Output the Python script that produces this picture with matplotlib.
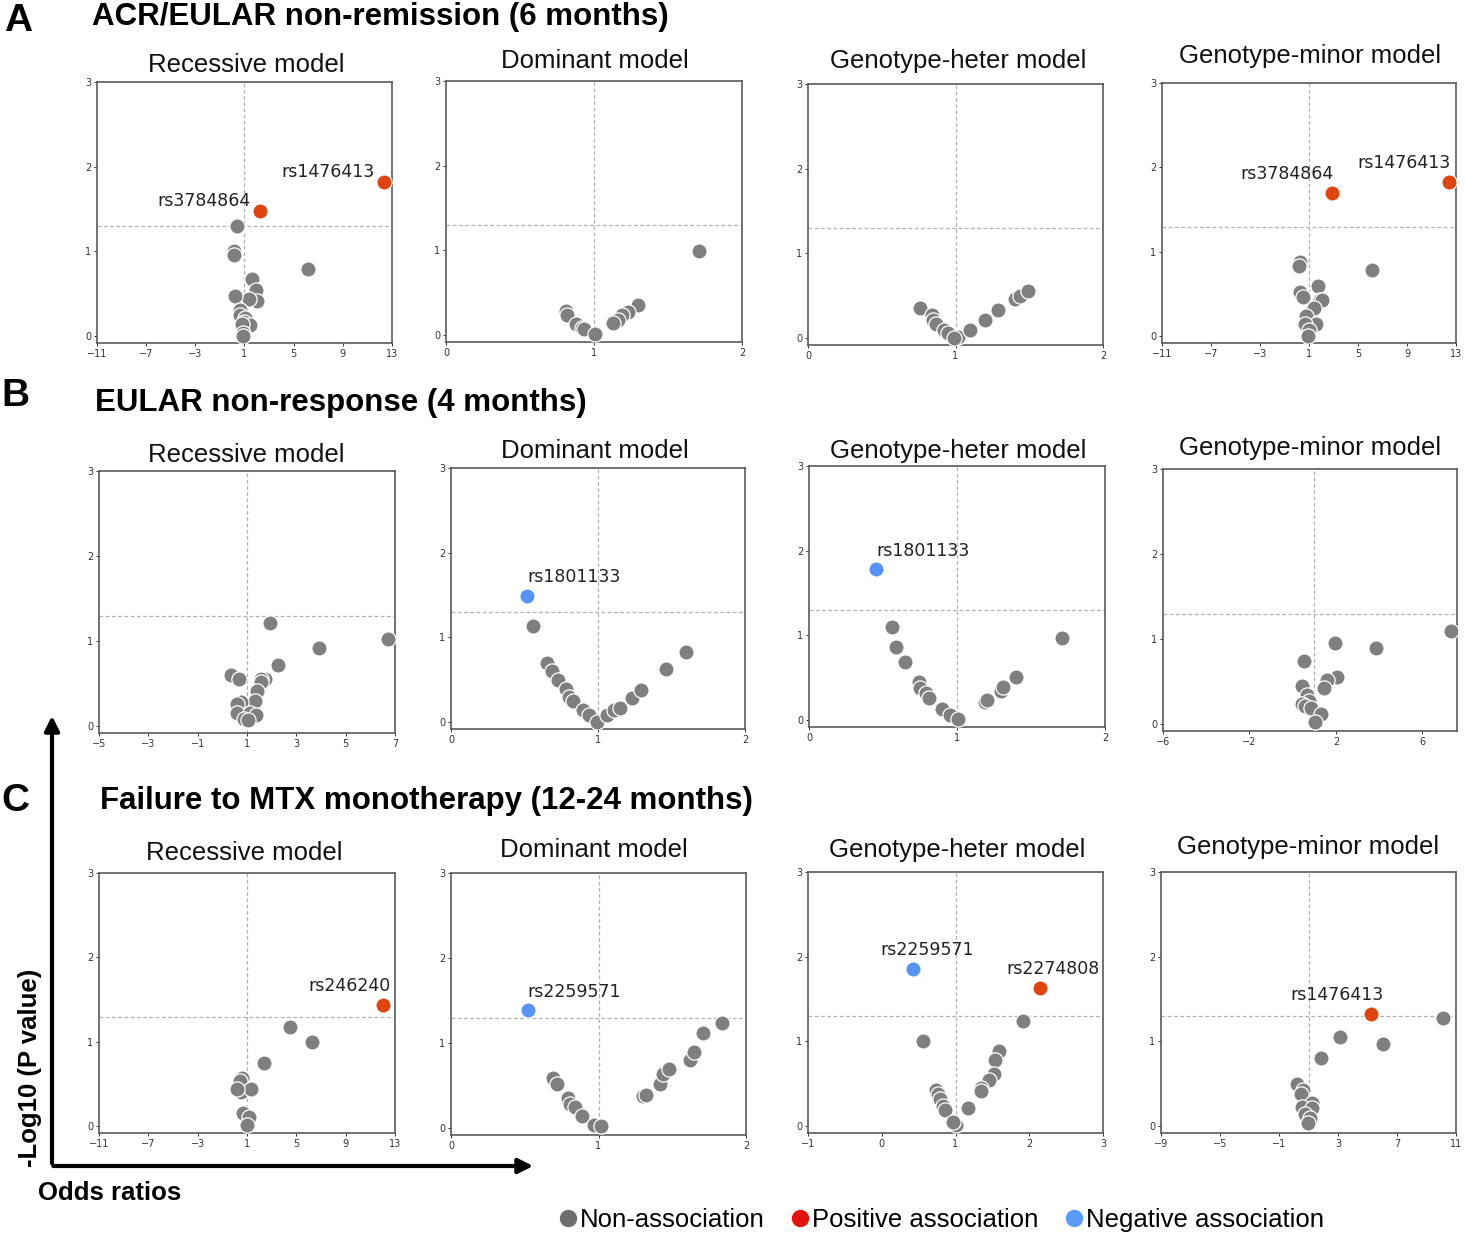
import matplotlib
matplotlib.use("Agg")
import matplotlib.pyplot as plt
from matplotlib.lines import Line2D
from matplotlib.patches import FancyArrowPatch

# ---------------- data: odds ratio (x) and -log10 P (y) per panel ----------------
# A: ACR/EULAR non-remission (6 months)
a_rec_or   = [0.39, 0.17, 0.12, 6.17, 1.61, 1.94, 2.02, 1.39, 0.20, 0.60, 0.66, 1.07, 1.00, 1.47, 0.80, 0.85, 0.85]
a_rec_logp = [1.30, 1.01, 0.96, 0.79, 0.67, 0.54, 0.42, 0.44, 0.48, 0.31, 0.25, 0.21, 0.17, 0.13, 0.15, 0.04, 0.00]
a_rec_sig  = [("rs1476413", 12.38, 1.82, "pos"), ("rs3784864", 2.23, 1.48, "pos")]

a_dom_or   = [1.71, 1.30, 1.23, 1.19, 1.16, 1.13, 0.81, 0.82, 0.88, 0.92, 0.93, 1.01]
a_dom_logp = [0.99, 0.36, 0.27, 0.24, 0.18, 0.14, 0.29, 0.24, 0.13, 0.09, 0.07, 0.01]
a_dom_sig  = []

a_het_or   = [0.76, 0.84, 0.85, 0.87, 0.92, 0.95, 1.02, 0.99, 1.10, 1.20, 1.29, 1.40, 1.44, 1.49]
a_het_logp = [0.36, 0.27, 0.22, 0.17, 0.10, 0.06, 0.01, 0.00, 0.10, 0.22, 0.33, 0.46, 0.50, 0.56]
a_het_sig  = []

a_min_or   = [6.18, 0.23, 0.20, 1.72, 0.28, 0.55, 1.86, 2.05, 1.37, 0.74, 1.56, 0.69, 1.04, 0.90]
a_min_logp = [0.79, 0.88, 0.83, 0.60, 0.52, 0.47, 0.43, 0.43, 0.33, 0.24, 0.15, 0.15, 0.07, 0.00]
a_min_sig  = [("rs3784864", 2.86, 1.70, "pos"), ("rs1476413", 12.43, 1.83, "pos")]

# B: EULAR non-response (4 months)
b_rec_or   = [6.70, 3.90, 1.93, 2.25, 1.73, 1.56, 1.56, 0.37, 0.67, 1.41, 1.32, 0.75, 0.60, 0.58, 1.14, 1.36, 0.87, 1.05]
b_rec_logp = [1.02, 0.92, 1.21, 0.72, 0.56, 0.56, 0.52, 0.60, 0.56, 0.41, 0.30, 0.29, 0.26, 0.15, 0.15, 0.13, 0.09, 0.07]
b_rec_sig  = []

b_dom_or   = [0.56, 0.65, 0.69, 0.73, 0.78, 0.80, 0.83, 0.90, 0.94, 0.99, 1.06, 1.11, 1.15, 1.23, 1.29, 1.46, 1.60]
b_dom_logp = [1.14, 0.70, 0.60, 0.50, 0.39, 0.30, 0.25, 0.14, 0.09, 0.00, 0.08, 0.14, 0.17, 0.28, 0.38, 0.63, 0.83]
b_dom_sig  = [("rs1801133", 0.52, 1.49, "neg")]

b_het_or   = [0.56, 0.59, 0.65, 0.74, 0.75, 0.79, 0.81, 0.90, 0.95, 1.01, 1.19, 1.20, 1.30, 1.31, 1.40, 1.71]
b_het_logp = [1.10, 0.86, 0.69, 0.45, 0.38, 0.32, 0.26, 0.13, 0.06, 0.02, 0.21, 0.24, 0.34, 0.39, 0.51, 0.97]
b_het_sig  = [("rs1801133", 0.45, 1.79, "neg")]

b_min_or   = [7.31, 3.84, 1.94, 2.03, 1.60, 1.47, 0.52, 0.44, 0.67, 0.75, 0.44, 0.59, 0.83, 1.29, 1.01]
b_min_logp = [1.09, 0.89, 0.95, 0.56, 0.52, 0.43, 0.74, 0.45, 0.34, 0.27, 0.24, 0.21, 0.19, 0.12, 0.02]
b_min_sig  = []

# C: Failure to MTX monotherapy (12-24 months)
c_rec_or   = [4.48, 6.29, 2.39, 0.61, 0.42, 0.50, 1.36, 0.15, 0.69, 1.15, 1.01]
c_rec_logp = [1.18, 1.00, 0.75, 0.57, 0.54, 0.40, 0.44, 0.44, 0.16, 0.11, 0.01]
c_rec_sig  = [("rs246240", 12.0, 1.44, "pos")]

c_dom_or   = [0.69, 0.72, 0.79, 0.81, 0.84, 0.89, 0.97, 1.02, 1.30, 1.32, 1.42, 1.44, 1.48, 1.62, 1.65, 1.71, 1.84]
c_dom_logp = [0.59, 0.52, 0.35, 0.29, 0.25, 0.14, 0.04, 0.03, 0.38, 0.39, 0.52, 0.64, 0.70, 0.80, 0.90, 1.12, 1.24]
c_dom_sig  = [("rs2259571", 0.52, 1.39, "neg")]

c_het_or   = [1.92, 0.56, 1.59, 1.54, 1.52, 1.46, 1.35, 1.35, 0.74, 0.76, 0.79, 0.83, 0.86, 1.17, 1.00, 0.96]
c_het_logp = [1.24, 1.01, 0.89, 0.78, 0.62, 0.55, 0.45, 0.41, 0.43, 0.38, 0.32, 0.24, 0.19, 0.21, 0.01, 0.05]
c_het_sig  = [("rs2259571", 0.43, 1.86, "neg"), ("rs2274808", 2.15, 1.63, "pos")]

c_min_or   = [10.14, 3.14, 6.03, 1.84, 0.25, 0.62, 0.48, 1.27, 0.59, 1.23, 0.77, 1.07, 0.95]
c_min_logp = [1.28, 1.05, 0.97, 0.81, 0.50, 0.43, 0.38, 0.27, 0.23, 0.22, 0.15, 0.10, 0.04]
c_min_sig  = [("rs1476413", 5.22, 1.32, "pos")]

model_titles = ["Recessive model", "Dominant model", "Genotype-heter model", "Genotype-minor model"]
section_titles = ["ACR/EULAR non-remission (6 months)", "EULAR non-response (4 months)",
                  "Failure to MTX monotherapy (12-24 months)"]
section_letters = ["A", "B", "C"]
legend_labels = ["Non-association", "Positive association", "Negative association"]

ticks_or_wide_a = [-11, -7, -3, 1, 5, 9, 13]
ticks_or_unit = [0, 1, 2]
ticks_or_rec_b = [-5, -3, -1, 1, 3, 5, 7]
ticks_or_min_b = [-6, -2, 2, 6]
ticks_or_het_c = [-1, 0, 1, 2, 3]
ticks_or_min_c = [-9, -5, -1, 3, 7, 11]
ticks_logp = [0, 1, 2, 3]

# ---------------- style / layout ----------------
W, H = 1465, 1236
GRAY = "#7f7f7f"
RED = "#E0450F"
BLUE = "#5593F7"
SANS = ["Liberation Sans", "DejaVu Sans"]

fig = plt.figure(figsize=(W / 100, H / 100), dpi=100)

def add_ax(l, t, r, b):
    return fig.add_axes([l / W, 1 - b / H, (r - l) / W, (b - t) / H])

# label offsets in pixels (dx, dy) relative to the point
label_offsets = {
    ("A", 0, "rs1476413"): (-56, 10), ("A", 0, "rs3784864"): (-56, 10),
    ("A", 3, "rs3784864"): (-45, 19), ("A", 3, "rs1476413"): (-45, 19),
    ("B", 1, "rs1801133"): (47, 19), ("B", 2, "rs1801133"): (47, 18),
    ("C", 0, "rs246240"): (-33, 19), ("C", 1, "rs2259571"): (46, 18),
    ("C", 2, "rs2259571"): (14, 19), ("C", 2, "rs2274808"): (13, 19),
    ("C", 3, "rs1476413"): (-34, 19),
}

panels = [
    # section, col, axes box (l,t,r,b px), xlim, xticks, ors, logps, sig, title pos
    ("A", 0, (97, 82, 392, 343), (-11, 13), ticks_or_wide_a, a_rec_or, a_rec_logp, a_rec_sig, (246, 65)),
    ("A", 1, (446, 81, 742, 342), (0, 2), ticks_or_unit, a_dom_or, a_dom_logp, a_dom_sig, (595, 61)),
    ("A", 2, (808, 84, 1103, 345), (0, 2), ticks_or_unit, a_het_or, a_het_logp, a_het_sig, (958, 61)),
    ("A", 3, (1162, 83, 1456, 343), (-11, 13), ticks_or_wide_a, a_min_or, a_min_logp, a_min_sig, (1310, 56)),
    ("B", 0, (99, 471, 395, 733), (-5, 7), ticks_or_rec_b, b_rec_or, b_rec_logp, b_rec_sig, (246, 455)),
    ("B", 1, (451, 468, 745, 729), (0, 2), ticks_or_unit, b_dom_or, b_dom_logp, b_dom_sig, (595, 451)),
    ("B", 2, (809, 466, 1105, 727), (0, 2), ticks_or_unit, b_het_or, b_het_logp, b_het_sig, (958, 451)),
    ("B", 3, (1163, 469, 1457, 731), (-6, 7.6), ticks_or_min_b, b_min_or, b_min_logp, b_min_sig, (1310, 448)),
    ("C", 0, (99, 873, 395, 1133), (-11, 13), ticks_or_wide_a, c_rec_or, c_rec_logp, c_rec_sig, (244, 853)),
    ("C", 1, (451, 873, 746, 1135), (0, 2), ticks_or_unit, c_dom_or, c_dom_logp, c_dom_sig, (594, 850)),
    ("C", 2, (808, 872, 1103, 1133), (-1, 3), ticks_or_het_c, c_het_or, c_het_logp, c_het_sig, (957, 850)),
    ("C", 3, (1161, 872, 1456, 1133), (-9, 11), ticks_or_min_c, c_min_or, c_min_logp, c_min_sig, (1308, 847)),
]

MS = 120
for sec, col, box, xlim, xticks, ors, logps, sig, tpos in panels:
    ax = add_ax(*box)
    ax.axhline(1.3, color="#b0b0b0", lw=0.9, ls=(0, (3, 2)), zorder=1)
    ax.axvline(1, color="#b0b0b0", lw=0.9, ls=(0, (3, 2)), zorder=1)
    ax.scatter(ors, logps, s=MS, c=GRAY, edgecolors="white", linewidths=0.9, zorder=3)
    for name, x, y, kind in sig:
        ax.scatter([x], [y], s=MS, c=RED if kind == "pos" else BLUE,
                   edgecolors="white", linewidths=0.9, zorder=4)
        dx, dy = label_offsets[(sec, col, name)]
        ax.annotate(name, (x, y), xytext=(dx, dy), textcoords="offset pixels",
                    ha="center", va="center", fontsize=12.5, color="#222222",
                    family="DejaVu Sans", zorder=5)
    ax.set_xlim(*xlim)
    ax.set_ylim(-0.08, 3)
    ax.set_xticks(xticks)
    ax.set_yticks(ticks_logp)
    ax.tick_params(labelsize=7, length=2.5, width=0.7, pad=1.5, colors="#333333")
    for sp in ax.spines.values():
        sp.set_color("#5a5a5a")
        sp.set_linewidth(1.2)
    fig.text(tpos[0] / W, 1 - tpos[1] / H, model_titles[col], ha="center", va="center",
             fontsize=18.5, family=SANS, color="#111111")

# section headers
letter_pos = [(18, 21), (15, 396), (15, 801)]
header_pos = [(92, 17), (95, 403), (100, 801)]
for letter, title, lp, hp in zip(section_letters, section_titles, letter_pos, header_pos):
    fig.text(lp[0] / W, 1 - lp[1] / H, letter, ha="center", va="center",
             fontsize=28, fontweight="bold", family=SANS)
    fig.text(hp[0] / W, 1 - hp[1] / H, title, ha="left", va="center",
             fontsize=22.5, fontweight="bold", family=SANS)

# axis arrows
fig.add_artist(FancyArrowPatch((52 / W, 1 - 1166 / H), (52 / W, 1 - 713 / H),
                               transform=fig.transFigure, arrowstyle="-|>",
                               mutation_scale=22, lw=3, color="black"))
fig.add_artist(FancyArrowPatch((50.5 / W, 1 - 1166 / H), (536 / W, 1 - 1166 / H),
                               transform=fig.transFigure, arrowstyle="-|>",
                               mutation_scale=22, lw=3, color="black"))
fig.text(30 / W, 1 - 1068 / H, "-Log10 (P value)", rotation=90, ha="center", va="center",
         fontsize=18.5, fontweight="bold", family=SANS)
fig.text(38 / W, 1 - 1193 / H, "Odds ratios", ha="left", va="center",
         fontsize=18.5, fontweight="bold", family=SANS)

# legend
handles = [Line2D([], [], marker="o", ls="", color=c, markersize=11.5)
           for c in ["#6e6e6e", "#E3120B", "#5A9BFF"]]
fig.legend(handles, legend_labels, loc="center", bbox_to_anchor=(942 / W, 1 - 1220 / H),
           ncol=3, frameon=False, handlelength=0.6, handletextpad=0.15, columnspacing=1.1,
           prop={"family": SANS, "size": 18.5}, borderpad=0)

fig.savefig("out.png", dpi=100)
